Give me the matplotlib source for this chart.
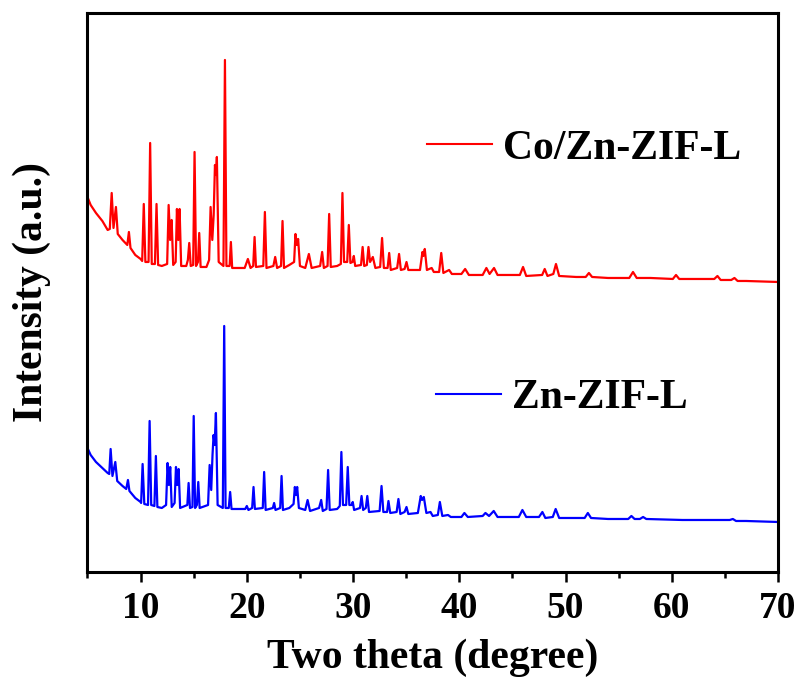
import matplotlib
matplotlib.use("Agg")
import matplotlib.pyplot as plt
from matplotlib.ticker import MultipleLocator

co_theta = [5.0, 5.3, 5.8, 6.4, 6.9, 7.1, 7.28, 7.45, 7.68, 7.85, 8.3, 8.75, 8.9, 9.05, 9.5,
            10.0, 10.15, 10.3, 10.45, 10.75, 10.9, 11.05, 11.35, 11.5, 11.65, 12.0, 12.5,
            12.64, 12.78, 12.92, 13.07, 13.3, 13.42, 13.55, 13.67, 13.82, 14.3, 14.45, 14.58,
            14.72, 14.95, 15.08, 15.22, 15.4, 15.52, 15.65, 16.2, 16.45, 16.59, 16.75, 16.88,
            17.0, 17.1, 17.18, 17.35, 17.8, 17.94, 18.08, 18.38, 18.5, 18.62, 19.2, 19.8,
            20.1, 20.35, 20.6, 20.73, 20.86, 21.55, 21.7, 21.85, 22.5, 22.67, 22.85, 23.22,
            23.36, 23.5, 24.0, 24.45, 24.58, 24.7, 24.83, 25.0, 25.5, 25.84, 26.1, 26.9,
            27.09, 27.25, 27.6, 27.75, 27.9, 28.5, 28.85, 29.0, 29.15, 29.45, 29.6, 29.75,
            29.95, 30.07, 30.2, 30.75, 30.9, 31.05, 31.3, 31.45, 31.6, 31.86, 32.1, 32.55,
            32.73, 32.9, 33.25, 33.4, 33.55, 34.15, 34.33, 34.5, 34.85, 35.03, 35.2, 36.3,
            36.53, 36.62, 36.75, 36.95, 37.4, 37.6, 38.1, 38.3, 38.5, 39.04, 39.3, 40.2,
            40.55, 40.9, 42.2, 42.55, 42.85, 43.27, 43.6, 45.0, 45.7, 46.0, 46.3, 47.8,
            48.04, 48.3, 48.85, 49.1, 49.4, 51.0, 51.9, 52.2, 52.5, 54.0, 56.0, 56.35, 56.7,
            58.0, 60.1, 60.4, 60.7, 63.0, 64.0, 64.3, 64.6, 65.6, 65.9, 66.2, 67.0, 70.0]
co_int = [375, 367, 359, 351, 342, 343, 379, 344, 365, 338, 332, 327, 340, 324, 317,
          313, 311, 368, 310, 310, 429, 308, 308, 368, 307, 306, 308,
          367, 332, 352, 307, 310, 363, 332, 363, 306, 306, 312, 329,
          306, 307, 420, 306, 310, 339, 305, 305, 312, 365, 332, 357,
          407, 397, 415, 310, 306, 512, 306, 306, 330, 304, 304, 304,
          313, 304, 306, 335, 305, 306, 360, 304, 306, 315, 304, 306,
          351, 304, 307, 310, 338, 327, 333, 306, 304, 318, 304, 306,
          320, 304, 306, 358, 305, 306, 308, 379, 310, 310, 347, 309,
          310, 316, 306, 307, 325, 306, 307, 325, 310, 315, 304, 305,
          334, 304, 304, 319, 302, 304, 318, 302, 303, 310, 302, 302,
          320, 316, 323, 302, 304, 300, 300, 319, 299, 302, 298, 298,
          303, 297, 297, 304, 298, 304, 297, 297, 297, 305, 296, 297,
          303, 296, 298, 308, 296, 295, 295, 299, 295, 294, 294, 300, 294,
          294, 293, 297, 293, 293, 293, 296, 292, 292, 294, 291, 291, 290]

zn_theta = [5.0, 5.3, 5.8, 6.4, 6.9, 7.05, 7.18, 7.35, 7.62, 7.8, 8.3, 8.65, 8.81, 8.95, 9.5,
            10.0, 10.05, 10.19, 10.35, 10.7, 10.85, 11.0, 11.3, 11.44, 11.58, 12.0, 12.4,
            12.54, 12.66, 12.79, 12.93, 13.2, 13.33, 13.45, 13.58, 13.72, 14.4, 14.52, 14.65,
            14.88, 15.0, 15.13, 15.3, 15.43, 15.56, 16.35, 16.5, 16.65, 16.77, 16.87, 16.97,
            17.09, 17.25, 17.74, 17.87, 18.0, 18.3, 18.43, 18.56, 19.3, 19.85, 20.0, 20.15,
            20.5, 20.63, 20.76, 21.5, 21.63, 21.77, 22.45, 22.57, 22.7, 23.14, 23.27, 23.4,
            24.0, 24.4, 24.52, 24.63, 24.74, 24.9, 25.5, 25.72, 25.95, 26.8, 27.0, 27.15,
            27.5, 27.65, 27.8, 28.5, 28.75, 28.9, 29.05, 29.35, 29.5, 29.65, 29.85, 29.97,
            30.1, 30.65, 30.8, 30.95, 31.2, 31.34, 31.5, 32.5, 32.68, 32.85, 33.2, 33.33,
            33.5, 34.1, 34.27, 34.45, 34.85, 35.03, 35.2, 36.1, 36.37, 36.5, 36.66, 36.9,
            37.29, 37.5, 37.98, 38.17, 38.4, 38.94, 39.2, 40.2, 40.48, 40.8, 42.2, 42.46,
            42.8, 43.24, 43.6, 45.6, 45.94, 46.3, 47.5, 47.82, 48.1, 48.8, 49.07, 49.4,
            51.0, 51.8, 52.1, 52.4, 54.0, 55.9, 56.2, 56.5, 57.0, 57.3, 57.6, 61.0, 63.0,
            65.45, 65.75, 66.05, 67.0, 70.0]
zn_int = [124, 117, 110, 104, 99, 98, 123, 96, 110, 91, 86, 83, 92, 81, 74,
          70, 69, 108, 68, 67, 151, 67, 66, 116, 65, 64, 67,
          109, 87, 105, 65, 69, 105, 87, 103, 64, 67, 89, 64,
          65, 156, 64, 67, 90, 64, 67, 107, 82, 117, 137, 127,
          159, 67, 64, 246, 64, 64, 80, 63, 63, 63, 66, 62,
          64, 85, 63, 64, 100, 62, 64, 69, 62, 64, 96, 62,
          64, 68, 85, 77, 85, 64, 62, 72, 61, 64, 72, 61,
          63, 102, 62, 63, 66, 120, 67, 67, 105, 67, 67, 70,
          62, 64, 76, 62, 64, 76, 60, 61, 86, 60, 60, 71,
          59, 60, 73, 58, 60, 65, 58, 59, 76, 72, 75, 59,
          60, 56, 57, 70, 56, 57, 55, 55, 59, 55, 56, 59,
          56, 61, 55, 55, 62, 55, 55, 60, 54, 55, 63, 54,
          54, 54, 59, 54, 53, 53, 56, 53, 53, 55, 53, 52, 52,
          52, 53, 51, 51, 50]

labels = ['Co/Zn-ZIF-L', 'Zn-ZIF-L']
colors = ['#ff0000', '#0000ff']

plt.rcParams['font.family'] = 'Liberation Serif'
plt.rcParams['font.weight'] = 'bold'

fig = plt.figure(figsize=(8.01, 6.79), dpi=100)
ax = fig.add_axes([0.1092, 0.1576, 0.8621, 0.8233])

l1, = ax.plot(co_theta, co_int, color=colors[0], lw=1.6)
l2, = ax.plot(zn_theta, zn_int, color=colors[1], lw=1.6)

ax.set_xlim(5, 70)
ax.set_ylim(0, 559)
ax.xaxis.set_major_locator(MultipleLocator(10))
ax.xaxis.set_minor_locator(MultipleLocator(5))
ax.tick_params(axis='x', which='major', direction='out', length=7.5, width=1.8,
               labelsize=27, pad=6)
ax.tick_params(axis='x', which='minor', direction='out', length=4, width=1.8)
ax.set_yticks([])
for s in ax.spines.values():
    s.set_linewidth(2.2)

ax.set_xlabel('Two theta (degree)', fontsize=30, fontweight='bold', labelpad=9)
ax.set_ylabel('Intensity (a.u.)', fontsize=30, fontweight='bold', labelpad=26)

leg1 = ax.legend([l1], [labels[0]], loc='center left', bbox_to_anchor=(0.492, 0.757),
                 frameon=False, fontsize=30, handlelength=1.55, handletextpad=0.27,
                 borderpad=0, borderaxespad=0)
for h in leg1.get_lines():
    h.set_linewidth(1.5)
ax.add_artist(leg1)
leg2 = ax.legend([l2], [labels[1]], loc='center left', bbox_to_anchor=(0.505, 0.311),
                 frameon=False, fontsize=30, handlelength=1.55, handletextpad=0.27,
                 borderpad=0, borderaxespad=0)
for h in leg2.get_lines():
    h.set_linewidth(1.5)

fig.savefig('out.png', dpi=100)
